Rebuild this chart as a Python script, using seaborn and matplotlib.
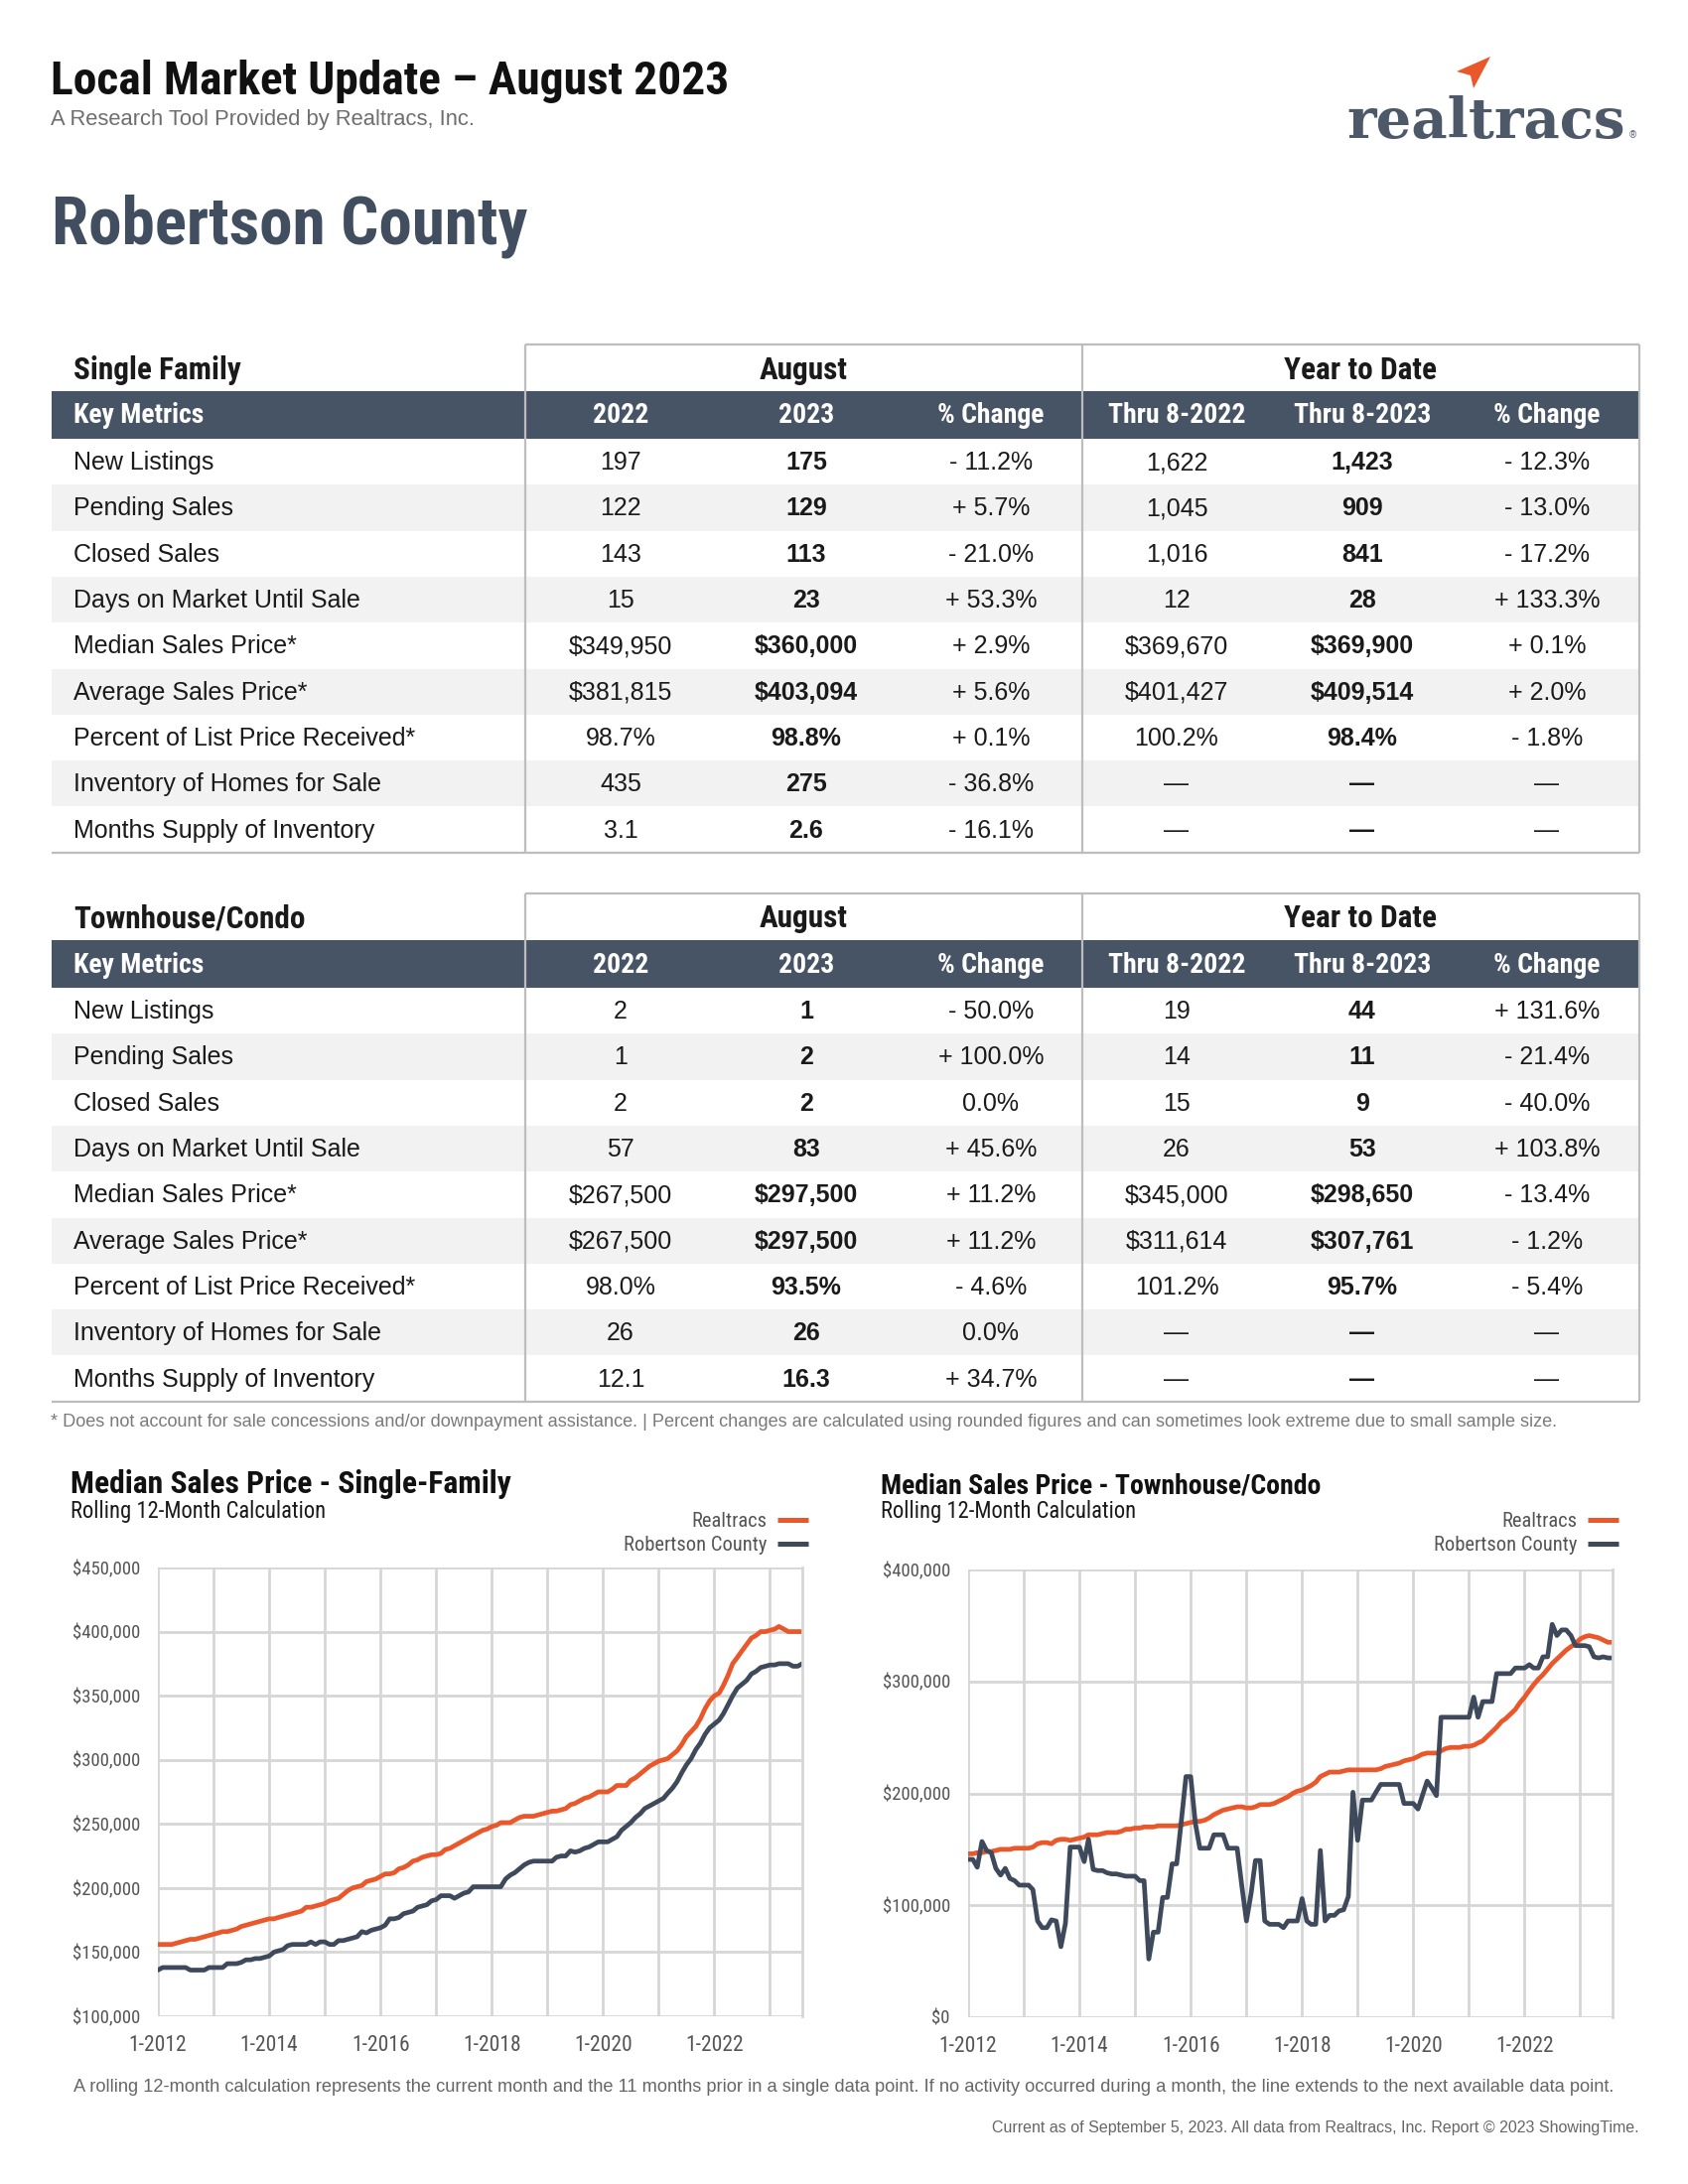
import numpy as np
import pandas as pd
import matplotlib
matplotlib.use("Agg")
import matplotlib.pyplot as plt
import matplotlib.dates as mdates
from matplotlib import font_manager
from matplotlib.patches import Rectangle, Polygon
from matplotlib.ticker import FuncFormatter, MultipleLocator
import seaborn as sns

# ---------------- table data ----------------
metrics = ["New Listings", "Pending Sales", "Closed Sales", "Days on Market Until Sale",
           "Median Sales Price*", "Average Sales Price*", "Percent of List Price Received*",
           "Inventory of Homes for Sale", "Months Supply of Inventory"]

sf_aug_2022 = ["197", "122", "143", "15", "$349,950", "$381,815", "98.7%", "435", "3.1"]
sf_aug_2023 = ["175", "129", "113", "23", "$360,000", "$403,094", "98.8%", "275", "2.6"]
sf_aug_chg = ["- 11.2%", "+ 5.7%", "- 21.0%", "+ 53.3%", "+ 2.9%", "+ 5.6%", "+ 0.1%", "- 36.8%", "- 16.1%"]
sf_ytd_2022 = ["1,622", "1,045", "1,016", "12", "$369,670", "$401,427", "100.2%", "—", "—"]
sf_ytd_2023 = ["1,423", "909", "841", "28", "$369,900", "$409,514", "98.4%", "—", "—"]
sf_ytd_chg = ["- 12.3%", "- 13.0%", "- 17.2%", "+ 133.3%", "+ 0.1%", "+ 2.0%", "- 1.8%", "—", "—"]

th_aug_2022 = ["2", "1", "2", "57", "$267,500", "$267,500", "98.0%", "26", "12.1"]
th_aug_2023 = ["1", "2", "2", "83", "$297,500", "$297,500", "93.5%", "26", "16.3"]
th_aug_chg = ["- 50.0%", "+ 100.0%", "0.0%", "+ 45.6%", "+ 11.2%", "+ 11.2%", "- 4.6%", "0.0%", "+ 34.7%"]
th_ytd_2022 = ["19", "14", "15", "26", "$345,000", "$311,614", "101.2%", "—", "—"]
th_ytd_2023 = ["44", "11", "9", "53", "$298,650", "$307,761", "95.7%", "—", "—"]
th_ytd_chg = ["+ 131.6%", "- 21.4%", "- 40.0%", "+ 103.8%", "- 13.4%", "- 1.2%", "- 5.4%", "—", "—"]

# ---------------- chart data (rolling 12-month median, $ thousands, 1-2012 .. 8-2023) ----------------
months = pd.date_range("2012-01-01", "2023-08-01", freq="MS")

sf_realtracs = [156, 156, 156, 156, 157, 158, 159, 160, 160, 161, 162, 163,
                164, 165, 166, 166, 167, 168, 170, 171, 172, 173, 174, 175,
                176, 176, 177, 178, 179, 180, 181, 182, 185, 185, 186, 187,
                188, 190, 191, 192, 195, 198, 200, 201, 202, 205, 206, 207,
                209, 211, 211, 212, 215, 216, 218, 221, 222, 224, 225, 226,
                226, 227, 230, 231, 233, 235, 237, 239, 241, 243, 245, 246,
                248, 249, 251, 251, 251, 253, 255, 256, 256, 256, 257, 258,
                259, 260, 260, 261, 262, 265, 266, 268, 270, 271, 273, 275,
                275, 275, 277, 280, 280, 280, 284, 286, 289, 292, 295, 297,
                299, 300, 301, 304, 307, 312, 318, 322, 326, 332, 340, 346,
                350, 352, 358, 366, 375, 380, 385, 390, 395, 397, 400, 400,
                401, 402, 404, 402, 400, 400, 400, 400]

sf_county = [136, 138, 138, 138, 138, 138, 138, 136, 136, 136, 136, 138,
             138, 138, 138, 141, 141, 141, 142, 144, 144, 145, 145, 146,
             147, 150, 151, 152, 155, 156, 156, 156, 156, 158, 156, 158,
             158, 156, 156, 159, 159, 160, 161, 162, 166, 165, 167, 168,
             169, 171, 176, 176, 177, 180, 181, 182, 185, 186, 187, 190,
             191, 194, 194, 194, 192, 194, 196, 197, 201, 201, 201, 201,
             201, 201, 201, 207, 210, 212, 215, 218, 220, 221, 221, 221,
             221, 221, 224, 225, 225, 229, 228, 229, 231, 232, 234, 236,
             236, 236, 238, 240, 245, 248, 251, 255, 258, 262, 264, 266,
             268, 270, 274, 278, 283, 290, 296, 301, 308, 313, 320, 325,
             328, 331, 336, 343, 350, 356, 359, 362, 367, 369, 372, 373,
             374, 374, 375, 375, 375, 373, 373, 375]

th_realtracs = [146, 146, 147, 147, 148, 148, 149, 150, 150, 150, 151, 151,
                151, 151, 152, 155, 156, 156, 155, 158, 159, 159, 158, 159,
                160, 161, 163, 163, 163, 164, 165, 165, 165, 166, 168, 168,
                169, 169, 170, 170, 170, 171, 171, 171, 171, 171, 172, 173,
                174, 175, 175, 176, 178, 181, 183, 185, 186, 187, 188, 188,
                187, 187, 188, 190, 190, 190, 191, 193, 195, 197, 200, 202,
                203, 205, 207, 210, 215, 217, 219, 219, 219, 220, 221, 221,
                221, 221, 221, 221, 221, 222, 224, 225, 226, 227, 229, 230,
                231, 233, 235, 236, 236, 236, 238, 240, 241, 241, 241, 242,
                242, 243, 245, 247, 251, 255, 259, 264, 267, 271, 275, 281,
                286, 292, 297, 302, 306, 311, 316, 320, 324, 328, 331, 334,
                338, 340, 341, 340, 339, 337, 335, 335]

th_county = [141, 141, 134, 157, 149, 147, 133, 127, 133, 124, 122, 118,
             118, 118, 114, 86, 80, 80, 87, 86, 63, 84, 152, 152,
             152, 139, 159, 132, 131, 131, 129, 128, 128, 127, 126, 126,
             126, 122, 122, 52, 76, 76, 107, 107, 137, 137, 176, 215,
             215, 173, 151, 151, 151, 163, 163, 163, 151, 151, 151, 118,
             86, 111, 140, 140, 86, 83, 83, 83, 80, 86, 86, 86,
             106, 86, 83, 83, 149, 86, 91, 91, 95, 96, 108, 201,
             158, 194, 194, 194, 201, 208, 208, 208, 208, 208, 191, 191,
             191, 186, 198, 211, 205, 198, 268, 268, 268, 268, 268, 268,
             268, 286, 268, 282, 282, 282, 307, 307, 307, 307, 312, 312,
             312, 315, 312, 312, 322, 322, 351, 341, 346, 346, 341, 332,
             332, 332, 331, 322, 321, 322, 321, 321]

# ---------------- style ----------------
ORANGE = "#e9572a"
SLATE = "#3e4a5c"
HEADER = "#465466"
GRID = "#d6d6d6"
BORDER = "#bdbdbd"
SHADE = "#f2f2f2"

sns.set_theme(style="white")
names = {f.name for f in font_manager.fontManager.ttflist}


def pick(cands, default):
    for c in cands:
        if c in names:
            return c
    return default


COND = pick(["Roboto Condensed", "Liberation Sans Narrow", "Open Sans Condensed", "DejaVu Sans Condensed"], "Liberation Sans")
SANS = pick(["Liberation Sans", "Roboto", "DejaVu Sans"], "DejaVu Sans")
SERIF = pick(["DejaVu Serif Condensed", "DejaVu Serif"], "serif")
plt.rcParams["font.family"] = [SANS, "DejaVu Sans"]

W, H = 1700, 2200
fig = plt.figure(figsize=(17, 22), dpi=100)
canvas = fig.add_axes([0, 0, 1, 1])
canvas.set_xlim(0, W)
canvas.set_ylim(H, 0)
canvas.axis("off")
renderer = fig.canvas.get_renderer()


def ptext(x, y, s, size, family=None, weight="normal", color="#1a1a1a", ha="left", va="baseline", fit=None):
    t = canvas.text(x, y, s, fontsize=size, family=[family or SANS, "DejaVu Sans"],
                    weight=weight, color=color, ha=ha, va=va)
    if fit:
        bb = t.get_window_extent(renderer)
        t.set_fontsize(size * fit / bb.width)
    return t


# ---------------- header ----------------
ptext(51, 95, "Local Market Update – August 2023", 34, COND, "bold", "#111111", fit=682)
ptext(51, 126, "A Research Tool Provided by Realtracs, Inc.", 14, SANS, color="#6e6e6e", fit=431)
ptext(52, 246, "Robertson County", 50, COND, "bold", "#414e60", fit=480)

# logo
ptext(1356, 139, "realtracs", 40, SERIF, "bold", "#4d5868", fit=281)
ptext(1641, 139, "®", 7, SANS, color="#4d5868")
canvas.add_patch(Polygon([(1501, 57), (1467, 72), (1481, 76), (1484, 89)], closed=True,
                         facecolor=ORANGE, edgecolor="none"))

# ---------------- tables ----------------
X0, X1, X2, X3 = 52, 529, 1090, 1651
COLX = [625, 812, 998, 1185, 1372, 1558]
HDR_H, DARK_H, ROW_H = 47, 48, 46.3


def draw_table(top, title, cols):
    dark_top = top + HDR_H
    rows_top = dark_top + DARK_H
    bottom = rows_top + ROW_H * len(metrics)
    ptext(74, top + HDR_H / 2 + 2, title, 22.5, COND, "bold", va="center")
    ptext((X1 + X2) / 2, top + HDR_H / 2 + 2, "August", 22.5, COND, "bold", ha="center", va="center")
    ptext((X2 + X3) / 2, top + HDR_H / 2 + 2, "Year to Date", 22.5, COND, "bold", ha="center", va="center")
    canvas.add_patch(Rectangle((X0, dark_top), X3 - X0, DARK_H, facecolor=HEADER, edgecolor="none"))
    ptext(74, dark_top + DARK_H / 2 + 1, "Key Metrics", 20, COND, "bold", "white", va="center")
    for x, lab in zip(COLX, ["2022", "2023", "% Change", "Thru 8-2022", "Thru 8-2023", "% Change"]):
        ptext(x, dark_top + DARK_H / 2 + 1, lab, 20, COND, "bold", "white", ha="center", va="center")
    for i, m in enumerate(metrics):
        y0 = rows_top + ROW_H * i
        if i % 2 == 1:
            canvas.add_patch(Rectangle((X0, y0), X3 - X0, ROW_H, facecolor=SHADE, edgecolor="none"))
        yc = y0 + ROW_H / 2 + 1
        ptext(74, yc, m, 18, SANS, va="center")
        for j, (x, col) in enumerate(zip(COLX, cols)):
            bold = j in (1, 4)
            ptext(x, yc, col[i], 18, SANS, "bold" if bold else "normal", ha="center", va="center")
    kw = dict(color=BORDER, lw=1.6, solid_capstyle="butt")
    canvas.plot([X1, X3], [top, top], **kw)
    canvas.plot([X0, X3], [bottom, bottom], **kw)
    for x in (X1, X2, X3):
        canvas.plot([x, x], [top, bottom], **kw)


draw_table(347, "Single Family", [sf_aug_2022, sf_aug_2023, sf_aug_chg, sf_ytd_2022, sf_ytd_2023, sf_ytd_chg])
draw_table(900, "Townhouse/Condo", [th_aug_2022, th_aug_2023, th_aug_chg, th_ytd_2022, th_ytd_2023, th_ytd_chg])

ptext(51, 1437, "* Does not account for sale concessions and/or downpayment assistance. | Percent changes are "
      "calculated using rounded figures and can sometimes look extreme due to small sample size.",
      12, SANS, color="#7a7a7a", fit=1523)


# ---------------- charts ----------------
def draw_chart(left, top, right, bottom, realtracs, county, ymin, ymax, ystep, title):
    ax = fig.add_axes([left / W, 1 - bottom / H, (right - left) / W, (bottom - top) / H])
    df = pd.DataFrame({"Month": months,
                       "Realtracs": np.array(realtracs) * 1000,
                       "Robertson County": np.array(county) * 1000})
    long = df.melt(id_vars="Month", var_name="Area", value_name="Price")
    sns.lineplot(data=long, x="Month", y="Price", hue="Area",
                 hue_order=["Realtracs", "Robertson County"],
                 palette=[ORANGE, SLATE], lw=3.4, legend=False, ax=ax)
    ax.set_xlim(months[0], months[-1])
    ax.set_ylim(ymin, ymax)
    ax.yaxis.set_major_locator(MultipleLocator(ystep))
    ax.yaxis.set_major_formatter(FuncFormatter(lambda v, p: f"${v:,.0f}"))
    ax.xaxis.set_major_locator(mdates.YearLocator(2))
    ax.xaxis.set_minor_locator(mdates.YearLocator(1))
    ax.xaxis.set_major_formatter(FuncFormatter(lambda v, p: f"1-{mdates.num2date(v).year}"))
    ax.grid(which="both", axis="x", color=GRID, lw=2)
    ax.grid(which="major", axis="y", color=GRID, lw=2)
    ax.set_axisbelow(True)
    for s in ax.spines.values():
        s.set_visible(False)
    ax.spines["right"].set_visible(True)
    ax.spines["right"].set_color(GRID)
    ax.spines["right"].set_linewidth(2)
    ax.tick_params(axis="both", which="both", length=6, width=2, color=GRID, direction="out")
    ax.tick_params(axis="y", labelsize=13.5, labelcolor="#555555", pad=7)
    ax.tick_params(axis="x", labelsize=15.5, labelcolor="#555555", pad=8)
    for lab in ax.get_xticklabels() + ax.get_yticklabels():
        lab.set_family([COND, "DejaVu Sans"])
    ax.set_xlabel("")
    ax.set_ylabel("")

    tx = left - 88
    ptext(tx, 1504, title, 21, COND, "bold", "#111111", fit=444)
    ptext(tx, 1529, "Rolling 12-Month Calculation", 16, COND, color="#1a1a1a", fit=257)
    lx = right - 36
    t = ptext(lx, 1562, "Robertson County", 15, COND, color="#555555", ha="right", fit=144)
    ptext(lx, 1538, "Realtracs", t.get_fontsize(), COND, color="#555555", ha="right")
    canvas.plot([lx + 11, lx + 42], [1531, 1531], color=ORANGE, lw=3.6, solid_capstyle="butt")
    canvas.plot([lx + 11, lx + 42], [1555, 1555], color=SLATE, lw=3.6, solid_capstyle="butt")
    return ax


draw_chart(159, 1579, 808, 2031, sf_realtracs, sf_county, 100000, 450000, 50000,
           "Median Sales Price - Single-Family")
draw_chart(975, 1581, 1624, 2032, th_realtracs, th_county, 0, 400000, 100000,
           "Median Sales Price - Townhouse/Condo")

ptext(850, 2107, "A rolling 12-month calculation represents the current month and the 11 months prior in a single "
      "data point. If no activity occurred during a month, the line extends to the next available data point.",
      12, SANS, color="#666666", ha="center", fit=1555)
ptext(1651, 2148, "Current as of September 5, 2023. All data from Realtracs, Inc. Report © 2023 ShowingTime.",
      10.5, SANS, color="#666666", ha="right", fit=657)

fig.savefig("out.png", dpi=100, facecolor="white")
